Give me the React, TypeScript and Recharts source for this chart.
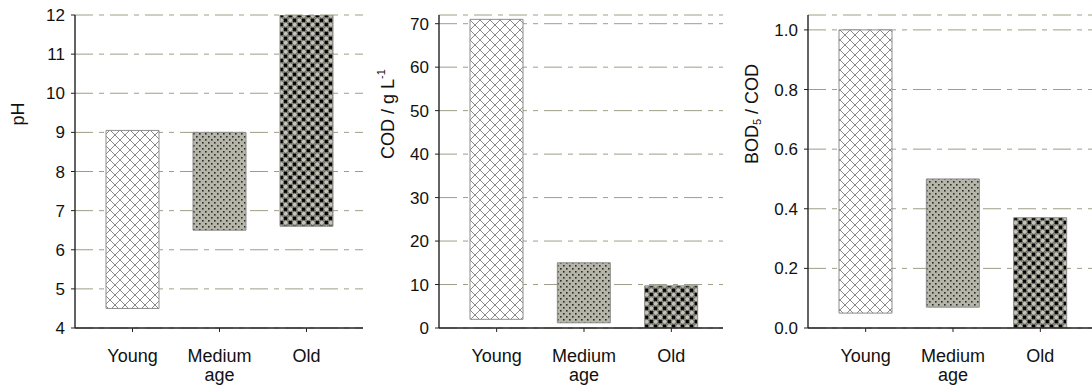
import React from 'react';
import { BarChart, Bar, Cell, XAxis, YAxis, CartesianGrid } from 'recharts';

const categories = ['Young', 'Medium\nage', 'Old'];

const phLow = [4.5, 6.5, 6.6];
const phHigh = [9.05, 9.0, 12];
const phTicks = [4, 5, 6, 7, 8, 9, 10, 11, 12];

const codLow = [2, 1.2, 0];
const codHigh = [71, 15, 9.7];
const codTicks = [0, 10, 20, 30, 40, 50, 60, 70];

const ratioLow = [0.05, 0.07, 0];
const ratioHigh = [1.0, 0.5, 0.37];
const ratioTicks = [0, 0.2, 0.4, 0.6, 0.8, 1.0];

const FILLS = ['url(#pat-young)', 'url(#pat-medium)', 'url(#pat-old)'];
const FONT = 'Arial, "Liberation Sans", sans-serif';
const GRID = '#9e9e88';

const buildRows = (low: number[], high: number[]) =>
  categories.map((name, i) => ({ name, range: [low[i], high[i]] }));

const CategoryTick = (props: any) => {
  const { x, y, payload } = props;
  const lines = String(payload.value).split('\n');
  return (
    <text x={x} y={y} textAnchor="middle" fontSize={18} fill="#111" fontFamily={FONT}>
      {lines.map((l, i) => (
        <tspan key={i} x={x} dy={i === 0 ? '0.71em' : 19}>
          {l}
        </tspan>
      ))}
    </text>
  );
};

const axisTitle = (dx: number, parts: React.ReactNode) => (props: any) => {
  const vb = props.viewBox;
  const cx = vb.x + dx;
  const cy = 114;
  return (
    <text
      x={cx}
      y={cy}
      textAnchor="middle"
      dominantBaseline="central"
      fontSize={18}
      fill="#111"
      fontFamily={FONT}
      transform={`rotate(-90, ${cx}, ${cy})`}
    >
      {parts}
    </text>
  );
};

function Patterns() {
  return (
    <svg width={0} height={0} style={{ position: 'absolute' }}>
      <defs>
        <pattern id="pat-young" patternUnits="userSpaceOnUse" width={10} height={10}>
          <rect width={10} height={10} fill="#fff" />
          <path d="M0,0 L10,10 M10,0 L0,10" stroke="#7c7c7c" strokeWidth={0.9} />
        </pattern>
        <pattern id="pat-medium" patternUnits="userSpaceOnUse" width={6} height={6}>
          <rect width={6} height={6} fill="#b6b6a8" />
          <rect x={1} y={1} width={1.6} height={1.6} fill="#2a2a2a" />
          <rect x={4} y={4} width={1.6} height={1.6} fill="#2a2a2a" />
        </pattern>
        <pattern id="pat-old" patternUnits="userSpaceOnUse" width={9} height={9}>
          <rect width={9} height={9} fill="#a9a99a" />
          <rect x={5} y={0.5} width={3.4} height={3.4} fill="#000" />
          <rect x={0.5} y={5} width={3.4} height={3.4} fill="#000" />
          <circle cx={2.25} cy={2.25} r={2.5} fill="#c4c4b6" stroke="#444" strokeWidth={0.7} />
          <circle cx={6.75} cy={6.75} r={2.5} fill="#c4c4b6" stroke="#444" strokeWidth={0.7} />
        </pattern>
      </defs>
    </svg>
  );
}

type PanelProps = {
  left: number;
  width: number;
  axisWidth: number;
  rows: { name: string; range: number[] }[];
  domain: [number, number];
  ticks: number[];
  fmt: (v: number) => string;
  padRight: number;
  title: (props: any) => React.ReactElement;
};

function Panel({ left, width, axisWidth, rows, domain, ticks, fmt, padRight, title }: PanelProps) {
  return (
    <div style={{ position: 'absolute', left, top: 0 }}>
      <BarChart width={width} height={385} data={rows} margin={{ top: 15, right: 7, bottom: 0, left: 0 }}>
        <CartesianGrid vertical={false} stroke={GRID} strokeDasharray="18 6 5 6" />
        <XAxis
          dataKey="name"
          type="category"
          interval={0}
          height={57}
          padding={{ left: 14, right: padRight }}
          tick={<CategoryTick />}
          tickSize={4}
          tickMargin={17}
          axisLine={{ stroke: '#222', strokeWidth: 1.4 }}
          tickLine={{ stroke: '#222' }}
        />
        <XAxis xAxisId="top" orientation="top" dataKey="name" height={0} tick={false} tickLine={false} axisLine={{ stroke: '#555' }} />
        <YAxis
          type="number"
          domain={domain}
          ticks={ticks}
          allowDataOverflow
          width={axisWidth}
          tickFormatter={fmt}
          tick={{ fontSize: 17, fill: '#111', fontFamily: FONT }}
          tickSize={4}
          tickMargin={6}
          axisLine={{ stroke: '#222', strokeWidth: 1.4 }}
          tickLine={{ stroke: '#222' }}
          label={{ content: title }}
        />
        <YAxis yAxisId="right" orientation="right" width={0} tick={false} tickLine={false} axisLine={{ stroke: '#777' }} />
        <Bar dataKey="range" barSize={53} stroke="#8c8c8c" strokeWidth={1} isAnimationActive={false}>
          {rows.map((r, i) => (
            <Cell key={r.name} fill={FILLS[i]} />
          ))}
        </Bar>
      </BarChart>
    </div>
  );
}

export default function App() {
  return (
    <div
      style={{
        position: 'absolute',
        left: 0,
        top: 0,
        width: 1092,
        height: 385,
        overflow: 'hidden',
        background: '#fff',
      }}
    >
      <Patterns />
      <Panel
        left={0}
        width={370}
        axisWidth={75}
        rows={buildRows(phLow, phHigh)}
        domain={[4, 12]}
        ticks={phTicks}
        fmt={(v) => String(v)}
        padRight={13}
        title={axisTitle(18, 'pH')}
      />
      <Panel
        left={370}
        width={360}
        axisWidth={69}
        rows={buildRows(codLow, codHigh)}
        domain={[0, 72]}
        ticks={codTicks}
        fmt={(v) => String(v)}
        padRight={8}
        title={axisTitle(18, [
          'COD / g L',
          <tspan key="s" dy={-7} fontSize={11}>-1</tspan>,
        ])}
      />
      <Panel
        left={730}
        width={373}
        axisWidth={78}
        rows={buildRows(ratioLow, ratioHigh)}
        domain={[0, 1.05]}
        ticks={ratioTicks}
        fmt={(v) => v.toFixed(1)}
        padRight={12}
        title={axisTitle(22, [
          'BOD',
          <tspan key="s" dy={5} fontSize={11}>5</tspan>,
          <tspan key="r" dy={-5}> / COD</tspan>,
        ])}
      />
    </div>
  );
}
